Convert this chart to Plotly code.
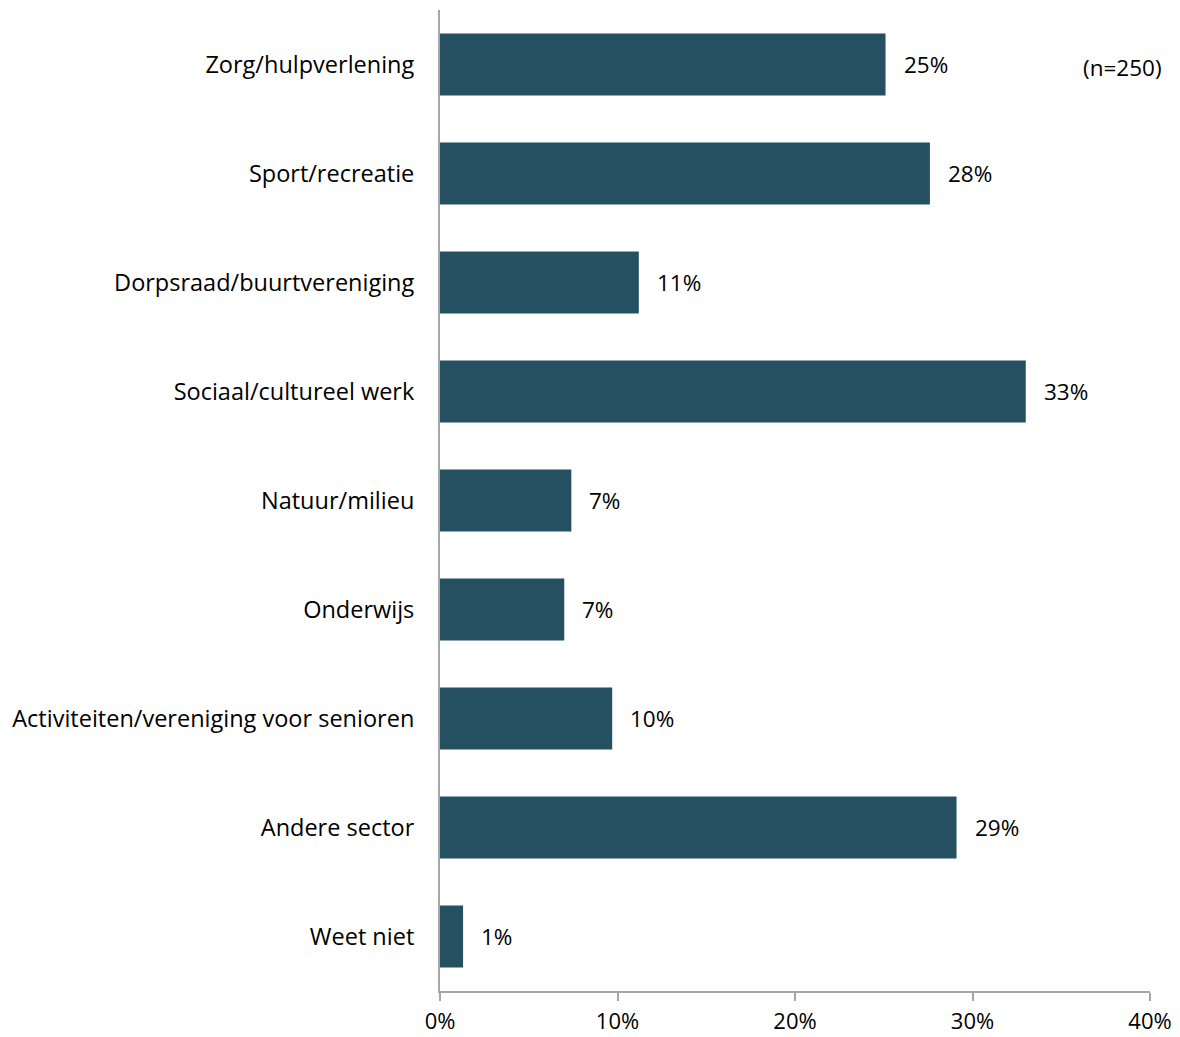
import plotly.graph_objects as go

categories = [
    "Zorg/hulpverlening",
    "Sport/recreatie",
    "Dorpsraad/buurtvereniging",
    "Sociaal/cultureel werk",
    "Natuur/milieu",
    "Onderwijs",
    "Activiteiten/vereniging voor senioren",
    "Andere sector",
    "Weet niet",
]
values = [25.1, 27.6, 11.2, 33.0, 7.4, 7.0, 9.7, 29.1, 1.3]
labels = ["25%", "28%", "11%", "33%", "7%", "7%", "10%", "29%", "1%"]
tick_vals = [0, 10, 20, 30, 40]
tick_text = ["0%", "10%", "20%", "30%", "40%"]

FONT = "Open Sans"
FS = 22.5
FS_CAT = 23.5
BAR_COLOR = "#245061"

fig = go.Figure()
fig.add_trace(go.Bar(
    y=categories,
    x=values,
    orientation="h",
    marker=dict(color=BAR_COLOR, line=dict(width=0)),
    hoverinfo="skip",
))

for c, v, t in zip(categories, values, labels):
    fig.add_annotation(
        x=v, y=c, xref="x", yref="y", text=t, showarrow=False,
        xanchor="left", yanchor="middle", xshift=16,
        font=dict(family=FONT, size=FS, color="#000000"),
    )

fig.add_annotation(
    x=1.0, y=0.941, xref="paper", yref="paper", text="(n=250)", showarrow=False,
    xanchor="right", yanchor="middle", xshift=14,
    font=dict(family=FONT, size=FS, color="#000000"),
)

fig.update_layout(
    width=1172, height=1029,
    margin=dict(l=432, r=30, t=2, b=46, autoexpand=False),
    plot_bgcolor="white", paper_bgcolor="white",
    bargap=0.43,
    showlegend=False,
    font=dict(family=FONT, size=FS, color="#000000"),
)
fig.update_xaxes(
    range=[0, 40], tickvals=tick_vals, ticktext=tick_text,
    showgrid=False, zeroline=False, automargin=False,
    showline=True, linecolor="#A6A6A6", linewidth=2,
    ticks="outside", ticklen=8, tickcolor="#A6A6A6", tickwidth=2,
    ticklabelstandoff=2,
    tickfont=dict(family=FONT, size=22, color="#000000"),
)
fig.update_yaxes(
    categoryorder="array", categoryarray=categories[::-1],
    autorange=False, range=[-0.5, len(categories) - 0.5],
    showgrid=False, zeroline=False, automargin=False,
    showline=True, linecolor="#A6A6A6", linewidth=2,
    ticks="", ticklabelstandoff=19,
    tickfont=dict(family=FONT, size=FS_CAT, color="#000000"),
)

fig.write_html("out.html")
